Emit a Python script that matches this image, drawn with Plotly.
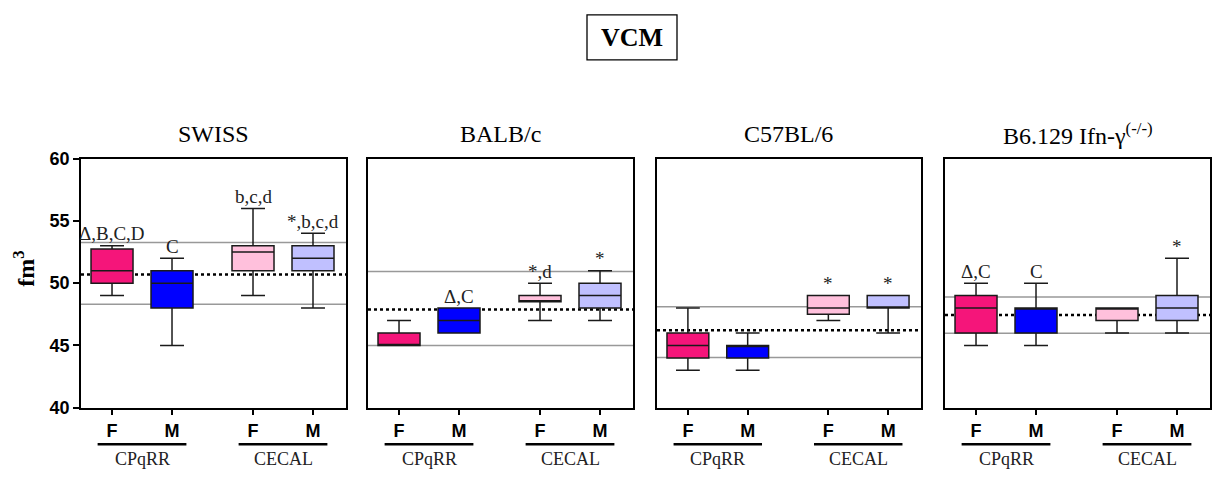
import plotly.graph_objects as go
from plotly.subplots import make_subplots

# strains (panel titles) and the four groups in each panel
STRAINS = ["SWISS", "BALB/c", "C57BL/6", "B6.129 Ifn-γ<sup>(-/-)</sup>"]
SEX_LABELS = ["F", "M", "F", "M"]
ORIGINS = ["CPqRR", "CECAL"]

# box statistics per strain, group order: CPqRR F, CPqRR M, CECAL F, CECAL M
LOWER = [[49, 45, 49, 48], [45, 46, 47, 47], [43, 43, 47, 46], [45, 45, 46, 46]]
Q1 = [[50, 48, 51, 51], [45, 46, 48.5, 48], [44, 44, 47.5, 48], [46, 46, 47, 47]]
MEDIAN = [[51, 50, 52.5, 52], [45, 47, 48.5, 49], [45, 45, 48, 48], [48, 48, 48, 48]]
Q3 = [[52.75, 51, 53, 53], [46, 48, 49, 50], [46, 45, 49, 49], [49, 48, 48, 49]]
UPPER = [[53, 52, 56, 54], [47, 48, 50, 51], [48, 46, 49, 49], [50, 50, 48, 52]]

# reference interval (grey lines) and mean (dotted line) per strain
REF_HIGH = [53.26, 50.94, 48.1, 48.88]
REF_LOW = [48.3, 45.0, 44.03, 45.97]
REF_MEAN = [50.7, 47.88, 46.22, 47.45]

# significance labels above each box
SIG = [
    ["Δ,B,C,D", "C", "b,c,d", "*,b,c,d"],
    ["", "Δ,C", "*,d", "*"],
    ["", "", "*", "*"],
    ["Δ,C", "C", "", "*"],
]

COLORS = ["#F5157A", "#0000FF", "#FFC0DC", "#C0C0FF"]
X_POS = [0, 1, 2.35, 3.35]

W, H = 1213, 481
SERIF = "Liberation Serif"
SANS = "Liberation Sans"

fig = make_subplots(rows=1, cols=4)

# panel pixel edges
panel_px = [(81, 346), (368, 633), (657, 921), (945, 1210)]
y_top, y_bot = 155, 415

for i, strain in enumerate(STRAINS):
    col = i + 1
    xr = "x" if col == 1 else f"x{col}"
    yr = "y" if col == 1 else f"y{col}"
    for j in range(4):
        fig.add_trace(
            go.Box(
                x=[X_POS[j]],
                lowerfence=[LOWER[i][j]],
                q1=[Q1[i][j]],
                median=[MEDIAN[i][j]],
                q3=[Q3[i][j]],
                upperfence=[UPPER[i][j]],
                width=0.7,
                whiskerwidth=0.57,
                fillcolor=COLORS[j],
                line=dict(color="#1a1a1a", width=1.5),
                boxpoints=False,
                showlegend=False,
            ),
            row=1,
            col=col,
        )
        if SIG[i][j]:
            fig.add_annotation(
                x=X_POS[j],
                y=UPPER[i][j] + 0.95,
                xref=xr,
                yref=yr,
                text=SIG[i][j],
                showarrow=False,
                xanchor="center",
                yanchor="middle",
                font=dict(family=SERIF, size=19, color="#222"),
            )

    # reference lines behind the boxes
    for yv in (REF_HIGH[i], REF_LOW[i]):
        fig.add_shape(type="line", xref=f"{xr} domain", yref=yr, x0=0, x1=1,
                      y0=yv, y1=yv, line=dict(color="#999999", width=1.5),
                      layer="below")
    fig.add_shape(type="line", xref=f"{xr} domain", yref=yr, x0=0, x1=1,
                  y0=REF_MEAN[i], y1=REF_MEAN[i],
                  line=dict(color="black", width=2.5, dash="dot"), layer="below")

    # group underlines and names
    for g, name in enumerate(ORIGINS):
        cx = (X_POS[2 * g] + X_POS[2 * g + 1]) / 2
        fig.add_shape(type="line", xref=xr, yref="paper", x0=cx - 0.74, x1=cx + 0.74,
                      y0=1 - 453 / H, y1=1 - 453 / H, line=dict(color="black", width=2.5))
        fig.add_annotation(x=cx, y=1 - 468 / H, xref=xr, yref="paper", text=name,
                           showarrow=False, xanchor="center", yanchor="middle",
                           font=dict(family=SERIF, size=18, color="#222"))

    # panel title
    x0, x1 = panel_px[i]
    fig.add_annotation(x=(x0 + x1) / 2 / W, y=1 - 129 / H, xref="paper", yref="paper",
                       text=strain, showarrow=False, xanchor="center", yanchor="middle",
                       font=dict(family=SERIF, size=24, color="black"))

    fig.update_xaxes(
        domain=[x0 / W, x1 / W], range=[-0.517, 3.9],
        tickvals=X_POS, ticktext=SEX_LABELS,
        tickfont=dict(family=SANS, size=18, color="black", weight="bold"),
        ticks="outside", ticklen=6, tickwidth=1.5, tickcolor="black",
        showline=True, linecolor="black", linewidth=1.5, mirror=True,
        showgrid=False, zeroline=False, fixedrange=True,
        row=1, col=col,
    )
    fig.update_yaxes(
        domain=[1 - y_bot / H, 1 - y_top / H], range=[40, 60],
        tickvals=[40, 45, 50, 55, 60],
        showticklabels=(col == 1),
        ticks="outside" if col == 1 else "", ticklen=6, tickwidth=1.5, tickcolor="black",
        tickfont=dict(family=SANS, size=18, color="black", weight="bold"),
        showline=True, linecolor="black", linewidth=1.5, mirror=True,
        showgrid=False, zeroline=False,
        row=1, col=col,
    )

# y-axis title
fig.add_annotation(x=24 / W, y=1 - 270 / H, xref="paper", yref="paper",
                   text="fm<sup>3</sup>", textangle=-90, showarrow=False,
                   xanchor="center", yanchor="middle",
                   font=dict(family=SERIF, size=24, color="black", weight="bold"))

# boxed main title
fig.add_shape(type="rect", xref="paper", yref="paper",
              x0=587 / W, x1=677 / W, y0=1 - 52 / H, y1=1 - 5 / H,
              line=dict(color="black", width=1.3), fillcolor="white")
fig.add_annotation(x=632 / W, y=1 - 29 / H, xref="paper", yref="paper",
                   text="<b>VCM</b>", showarrow=False,
                   xanchor="center", yanchor="middle",
                   font=dict(family=SERIF, size=26, color="black"))

fig.update_layout(
    width=W, height=H,
    margin=dict(l=0, r=0, t=0, b=0),
    plot_bgcolor="white", paper_bgcolor="white",
    showlegend=False,
)

fig.write_html(
    "out.html",
    config={"displayModeBar": False},
    post_script="document.body.style.margin='0';document.body.style.overflow='hidden';",
)
